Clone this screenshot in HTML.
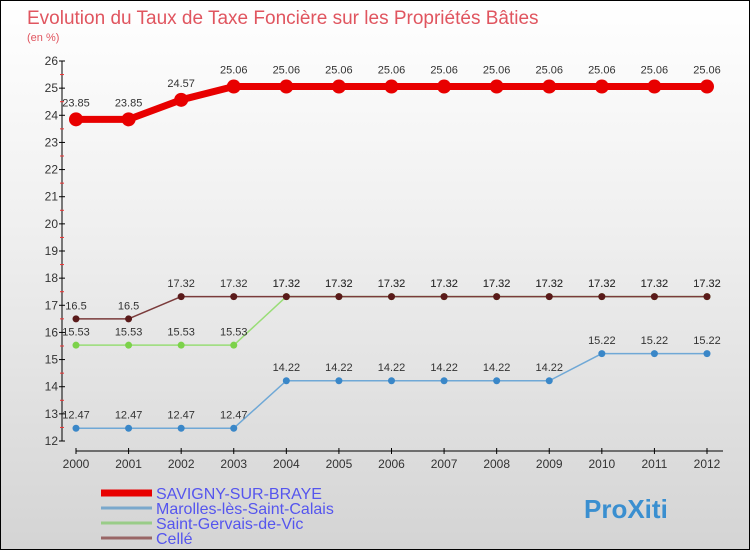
<!DOCTYPE html>
<html><head><meta charset="utf-8"><style>
body{margin:0}
#c{width:750px;height:550px;position:relative;overflow:hidden;border:1px solid #000;box-sizing:border-box;background:linear-gradient(#fff,#f0f0f0 40%,#d4d4d4);font-family:"Liberation Sans",sans-serif}
</style></head><body>
<div id="c">
<svg width="750" height="550" id="s">
<text x="26" y="23" font-size="19" fill="#e0555f">Evolution du Taux de Taxe Foncière sur les Propriétés Bâties</text>
<text x="26" y="40" font-size="11" fill="#e0555f">(en %)</text>
<g id="g"></g>
</svg>
</div>
<script>
const years=[2000,2001,2002,2003,2004,2005,2006,2007,2008,2009,2010,2011,2012];
const savigny=[23.85,23.85,24.57,25.06,25.06,25.06,25.06,25.06,25.06,25.06,25.06,25.06,25.06];
const marolles=[12.47,12.47,12.47,12.47,14.22,14.22,14.22,14.22,14.22,14.22,15.22,15.22,15.22];
const gervais=[15.53,15.53,15.53,15.53,17.32,17.32,17.32,17.32,17.32,17.32,17.32,17.32,17.32];
const celle=[16.5,16.5,17.32,17.32,17.32,17.32,17.32,17.32,17.32,17.32,17.32,17.32,17.32];
const yTicks=[12,13,14,15,16,17,18,19,20,21,22,23,24,25,26];
const NS="http://www.w3.org/2000/svg",g=document.getElementById('g');
const X=i=>75+i*(706-75)/(years.length-1);
const Y=v=>440-(v-12)*(380/14);
function el(t,a,p){const e=document.createElementNS(NS,t);for(const k in a)e.setAttribute(k,a[k]);(p||g).appendChild(e);return e;}
// axes
let ya=el('line',{x1:61,y1:60,x2:61,y2:440,stroke:'#000'});


let xa=el('line',{x1:75,y1:450,x2:722,y2:450,stroke:'#000'});


yTicks.forEach(v=>{
 el('line',{x1:58,x2:64,y1:Y(v),y2:Y(v),stroke:'#000'});
 if(v<26){const m=el('line',{x1:59,x2:63,y1:Y(v+0.5),y2:Y(v+0.5),stroke:'#e33'});}
 const t=el('text',{x:57,y:Y(v)+4,'text-anchor':'end','font-size':12,fill:'#333'});
 t.textContent=v;
 
 
});
years.forEach((y,i)=>{
 el('line',{x1:X(i),x2:X(i),y1:447,y2:453,stroke:'#000'});
 const t=el('text',{x:X(i),y:467,'text-anchor':'middle','font-size':12,fill:'#333'});
 t.textContent=y;
 
 
});
function series(data,col,w,r,name,dot){
 const pl=el('polyline',{points:data.map((v,i)=>X(i)+','+Y(v)).join(' '),fill:'none',stroke:col,'stroke-width':w,'stroke-linejoin':'round'});
 
 
 data.forEach((v,i)=>{
  const c=el('circle',{cx:X(i),cy:Y(v),r:r,fill:dot});
  
  
  const t=el('text',{x:X(i),y:Y(v)-(r+6),'text-anchor':'middle','font-size':11,fill:'#333'});
  t.textContent=v;
  
  
 });
}
series(marolles,'#6fa8d6',1.5,3.5,'marolles','#3a87c8');
series(gervais,'#99dd77',1.5,3.5,'saint-gervais','#7cd24a');
series(celle,'#7a3b3b',1.5,3.5,'celle','#5a1a1a');
series(savigny,'#e80000',7,7,'savigny','#e80000');
// legend
const leg=[['SAVIGNY-SUR-BRAYE','#e80000',7],['Marolles-lès-Saint-Calais','#7aa8cc',3],['Saint-Gervais-de-Vic','#99cc88',3],['Cellé','#996666',3]];
leg.forEach((l,i)=>{
 const y=492+i*15;
 const ln=el('line',{x1:100,x2:151,y1:y,y2:y,stroke:l[1],'stroke-width':l[2]});
 
 
 const t=el('text',{x:155,y:y+6,'font-size':16,fill:'#5555ee'});
 t.textContent=l[0];
 
 
});
const lg=el('text',{x:583,y:517,'font-size':26,'font-weight':'bold',fill:'#3a8fd0'});
lg.textContent='ProXiti';


</script>
</body></html>
